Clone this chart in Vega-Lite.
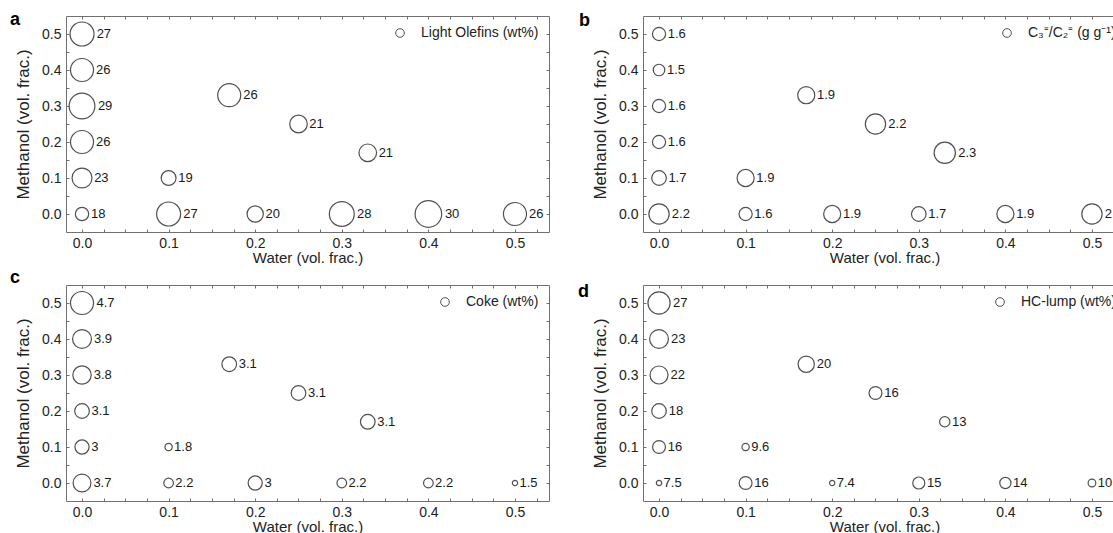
{
  "$schema": "https://vega.github.io/schema/vega-lite/v6.json",
  "background": "white",
  "padding": {"left": 9, "top": 10, "right": 0, "bottom": 0},
  "data": {"values": [
    {"panel": "a", "water": 0, "methanol": 0.5, "value": 27},
    {"panel": "a", "water": 0, "methanol": 0.4, "value": 26},
    {"panel": "a", "water": 0, "methanol": 0.3, "value": 29},
    {"panel": "a", "water": 0, "methanol": 0.2, "value": 26},
    {"panel": "a", "water": 0, "methanol": 0.1, "value": 23},
    {"panel": "a", "water": 0, "methanol": 0, "value": 18},
    {"panel": "a", "water": 0.1, "methanol": 0.1, "value": 19},
    {"panel": "a", "water": 0.1, "methanol": 0, "value": 27},
    {"panel": "a", "water": 0.2, "methanol": 0, "value": 20},
    {"panel": "a", "water": 0.3, "methanol": 0, "value": 28},
    {"panel": "a", "water": 0.4, "methanol": 0, "value": 30},
    {"panel": "a", "water": 0.5, "methanol": 0, "value": 26},
    {"panel": "a", "water": 0.17, "methanol": 0.33, "value": 26},
    {"panel": "a", "water": 0.25, "methanol": 0.25, "value": 21},
    {"panel": "a", "water": 0.33, "methanol": 0.17, "value": 21},
    {"panel": "b", "water": 0, "methanol": 0.5, "value": 1.6},
    {"panel": "b", "water": 0, "methanol": 0.4, "value": 1.5},
    {"panel": "b", "water": 0, "methanol": 0.3, "value": 1.6},
    {"panel": "b", "water": 0, "methanol": 0.2, "value": 1.6},
    {"panel": "b", "water": 0, "methanol": 0.1, "value": 1.7},
    {"panel": "b", "water": 0, "methanol": 0, "value": 2.2},
    {"panel": "b", "water": 0.1, "methanol": 0.1, "value": 1.9},
    {"panel": "b", "water": 0.1, "methanol": 0, "value": 1.6},
    {"panel": "b", "water": 0.2, "methanol": 0, "value": 1.9},
    {"panel": "b", "water": 0.3, "methanol": 0, "value": 1.7},
    {"panel": "b", "water": 0.4, "methanol": 0, "value": 1.9},
    {"panel": "b", "water": 0.5, "methanol": 0, "value": 2.2},
    {"panel": "b", "water": 0.17, "methanol": 0.33, "value": 1.9},
    {"panel": "b", "water": 0.25, "methanol": 0.25, "value": 2.2},
    {"panel": "b", "water": 0.33, "methanol": 0.17, "value": 2.3},
    {"panel": "c", "water": 0, "methanol": 0.5, "value": 4.7},
    {"panel": "c", "water": 0, "methanol": 0.4, "value": 3.9},
    {"panel": "c", "water": 0, "methanol": 0.3, "value": 3.8},
    {"panel": "c", "water": 0, "methanol": 0.2, "value": 3.1},
    {"panel": "c", "water": 0, "methanol": 0.1, "value": 3},
    {"panel": "c", "water": 0, "methanol": 0, "value": 3.7},
    {"panel": "c", "water": 0.1, "methanol": 0.1, "value": 1.8},
    {"panel": "c", "water": 0.1, "methanol": 0, "value": 2.2},
    {"panel": "c", "water": 0.2, "methanol": 0, "value": 3},
    {"panel": "c", "water": 0.3, "methanol": 0, "value": 2.2},
    {"panel": "c", "water": 0.4, "methanol": 0, "value": 2.2},
    {"panel": "c", "water": 0.5, "methanol": 0, "value": 1.5},
    {"panel": "c", "water": 0.17, "methanol": 0.33, "value": 3.1},
    {"panel": "c", "water": 0.25, "methanol": 0.25, "value": 3.1},
    {"panel": "c", "water": 0.33, "methanol": 0.17, "value": 3.1},
    {"panel": "d", "water": 0, "methanol": 0.5, "value": 27},
    {"panel": "d", "water": 0, "methanol": 0.4, "value": 23},
    {"panel": "d", "water": 0, "methanol": 0.3, "value": 22},
    {"panel": "d", "water": 0, "methanol": 0.2, "value": 18},
    {"panel": "d", "water": 0, "methanol": 0.1, "value": 16},
    {"panel": "d", "water": 0, "methanol": 0, "value": 7.5},
    {"panel": "d", "water": 0.1, "methanol": 0.1, "value": 9.6},
    {"panel": "d", "water": 0.1, "methanol": 0, "value": 16},
    {"panel": "d", "water": 0.2, "methanol": 0, "value": 7.4},
    {"panel": "d", "water": 0.3, "methanol": 0, "value": 15},
    {"panel": "d", "water": 0.4, "methanol": 0, "value": 14},
    {"panel": "d", "water": 0.5, "methanol": 0, "value": 10},
    {"panel": "d", "water": 0.17, "methanol": 0.33, "value": 20},
    {"panel": "d", "water": 0.25, "methanol": 0.25, "value": 16},
    {"panel": "d", "water": 0.33, "methanol": 0.17, "value": 13}
  ]},
  "columns": 2,
  "bounds": "flush",
  "spacing": {"row": 53, "column": 94},
  "resolve": {
    "scale": {"x": "independent", "y": "independent", "color": "independent", "size": "independent", "radius": "independent"},
    "legend": {"color": "independent"}
  },
  "concat": [
    {
      "width": 483, "height": 216,
      "title": {"text": "a", "anchor": "start", "frame": "group", "orient": "top", "fontSize": 18, "fontWeight": "bold", "font": "Liberation Sans", "color": "#000", "baseline": "alphabetic", "offset": -18, "dx": -56, "dy": 9},
      "transform": [{"filter": "datum.panel === 'a'"}],
      "layer": [
        {
          "mark": {"type": "point", "shape": "circle", "filled": false, "strokeWidth": 1.2, "opacity": 1},
          "encoding": {
            "x": {"field": "water", "type": "quantitative", "scale": {"domain": [-0.0185, 0.5393], "nice": false, "zero": false}, "axis": {"orient": "bottom", "values": [0,0.025,0.05,0.075,0.1,0.125,0.15,0.175,0.2,0.225,0.25,0.275,0.3,0.325,0.35,0.375,0.4,0.425,0.45,0.475,0.5,0.525], "labelExpr": "abs(datum.value*10 - round(datum.value*10)) < 0.001 ? format(datum.value, '.1f') : ''", "title": "Water (vol. frac.)"}},
            "y": {"field": "methanol", "type": "quantitative", "scale": {"domain": [-0.05, 0.55], "nice": false, "zero": false}, "axis": {"orient": "left", "values": [0,0.05,0.1,0.15,0.2,0.25,0.3,0.35,0.4,0.45,0.5], "labelExpr": "abs(datum.value*10 - round(datum.value*10)) < 0.001 ? format(datum.value, '.1f') : ''", "title": "Methanol (vol. frac.)"}},
            "size": {"field": "value", "type": "quantitative", "scale": {"type": "linear", "zero": false, "domain": [18, 30], "range": [177, 707]}, "legend": null},
            "color": {"datum": "Light Olefins (wt%)", "type": "nominal", "scale": {"range": ["#505050"]}, "legend": {"title": null, "orient": "top-right", "offset": 8, "padding": 2, "symbolType": "circle", "symbolSize": 75, "symbolStrokeWidth": 1, "labelFont": "Liberation Sans", "labelFontSize": 14, "labelColor": "#222", "labelOffset": 14}}
          }
        },
        {
          "mark": {"type": "text", "align": "left", "baseline": "middle", "theta": 1.5708, "fontSize": 13, "font": "Liberation Sans", "color": "#1a1a1a"},
          "encoding": {
            "x": {"field": "water", "type": "quantitative", "scale": {"domain": [-0.0185, 0.5393], "nice": false, "zero": false}, "axis": null},
            "y": {"field": "methanol", "type": "quantitative", "scale": {"domain": [-0.05, 0.55], "nice": false, "zero": false}, "axis": null},
            "radius": {"field": "value", "type": "quantitative", "scale": {"type": "linear", "zero": false, "domain": [18, 30], "range": [9, 16.5]}},
            "text": {"field": "value", "type": "nominal"}
          }
        },
        {
          "mark": {"type": "point", "opacity": 0},
          "encoding": {
            "x": {"field": "water", "type": "quantitative", "scale": {"domain": [-0.0185, 0.5393], "nice": false, "zero": false}, "axis": {"orient": "top", "values": [0,0.025,0.05,0.075,0.1,0.125,0.15,0.175,0.2,0.225,0.25,0.275,0.3,0.325,0.35,0.375,0.4,0.425,0.45,0.475,0.5,0.525], "labels": false, "title": null}},
            "y": {"field": "methanol", "type": "quantitative", "scale": {"domain": [-0.05, 0.55], "nice": false, "zero": false}, "axis": {"orient": "right", "values": [0,0.05,0.1,0.15,0.2,0.25,0.3,0.35,0.4,0.45,0.5], "labels": false, "title": null}}
          }
        }
      ],
      "resolve": {"axis": {"x": "independent", "y": "independent"}}
    },
    {
      "width": 483, "height": 216,
      "title": {"text": "b", "anchor": "start", "frame": "group", "orient": "top", "fontSize": 18, "fontWeight": "bold", "font": "Liberation Sans", "color": "#000", "baseline": "alphabetic", "offset": -18, "dx": -64, "dy": 10},
      "transform": [{"filter": "datum.panel === 'b'"}],
      "layer": [
        {
          "mark": {"type": "point", "shape": "circle", "filled": false, "strokeWidth": 1.2, "opacity": 1},
          "encoding": {
            "x": {"field": "water", "type": "quantitative", "scale": {"domain": [-0.0185, 0.5393], "nice": false, "zero": false}, "axis": {"orient": "bottom", "values": [0,0.025,0.05,0.075,0.1,0.125,0.15,0.175,0.2,0.225,0.25,0.275,0.3,0.325,0.35,0.375,0.4,0.425,0.45,0.475,0.5,0.525], "labelExpr": "abs(datum.value*10 - round(datum.value*10)) < 0.001 ? format(datum.value, '.1f') : ''", "title": "Water (vol. frac.)"}},
            "y": {"field": "methanol", "type": "quantitative", "scale": {"domain": [-0.05, 0.55], "nice": false, "zero": false}, "axis": {"orient": "left", "values": [0,0.05,0.1,0.15,0.2,0.25,0.3,0.35,0.4,0.45,0.5], "labelExpr": "abs(datum.value*10 - round(datum.value*10)) < 0.001 ? format(datum.value, '.1f') : ''", "title": "Methanol (vol. frac.)"}},
            "size": {"field": "value", "type": "quantitative", "scale": {"type": "linear", "zero": false, "domain": [1.5, 2.3], "range": [133, 452]}, "legend": null},
            "color": {"datum": "C₃⁼/C₂⁼ (g g⁻¹)", "type": "nominal", "scale": {"range": ["#505050"]}, "legend": {"title": null, "orient": "top-right", "offset": 8, "padding": 2, "symbolType": "circle", "symbolSize": 75, "symbolStrokeWidth": 1, "labelFont": "Liberation Sans", "labelFontSize": 14, "labelColor": "#222", "labelOffset": 14}}
          }
        },
        {
          "mark": {"type": "text", "align": "left", "baseline": "middle", "theta": 1.5708, "fontSize": 13, "font": "Liberation Sans", "color": "#1a1a1a"},
          "encoding": {
            "x": {"field": "water", "type": "quantitative", "scale": {"domain": [-0.0185, 0.5393], "nice": false, "zero": false}, "axis": null},
            "y": {"field": "methanol", "type": "quantitative", "scale": {"domain": [-0.05, 0.55], "nice": false, "zero": false}, "axis": null},
            "radius": {"field": "value", "type": "quantitative", "scale": {"type": "linear", "zero": false, "domain": [1.5, 2.3], "range": [8, 13.5]}},
            "text": {"field": "value", "type": "nominal"}
          }
        },
        {
          "mark": {"type": "point", "opacity": 0},
          "encoding": {
            "x": {"field": "water", "type": "quantitative", "scale": {"domain": [-0.0185, 0.5393], "nice": false, "zero": false}, "axis": {"orient": "top", "values": [0,0.025,0.05,0.075,0.1,0.125,0.15,0.175,0.2,0.225,0.25,0.275,0.3,0.325,0.35,0.375,0.4,0.425,0.45,0.475,0.5,0.525], "labels": false, "title": null}},
            "y": {"field": "methanol", "type": "quantitative", "scale": {"domain": [-0.05, 0.55], "nice": false, "zero": false}, "axis": {"orient": "right", "values": [0,0.05,0.1,0.15,0.2,0.25,0.3,0.35,0.4,0.45,0.5], "labels": false, "title": null}}
          }
        }
      ],
      "resolve": {"axis": {"x": "independent", "y": "independent"}}
    },
    {
      "width": 483, "height": 216,
      "title": {"text": "c", "anchor": "start", "frame": "group", "orient": "top", "fontSize": 18, "fontWeight": "bold", "font": "Liberation Sans", "color": "#000", "baseline": "alphabetic", "offset": -18, "dx": -56, "dy": -2},
      "transform": [{"filter": "datum.panel === 'c'"}],
      "layer": [
        {
          "mark": {"type": "point", "shape": "circle", "filled": false, "strokeWidth": 1.2, "opacity": 1},
          "encoding": {
            "x": {"field": "water", "type": "quantitative", "scale": {"domain": [-0.0185, 0.5393], "nice": false, "zero": false}, "axis": {"orient": "bottom", "values": [0,0.025,0.05,0.075,0.1,0.125,0.15,0.175,0.2,0.225,0.25,0.275,0.3,0.325,0.35,0.375,0.4,0.425,0.45,0.475,0.5,0.525], "labelExpr": "abs(datum.value*10 - round(datum.value*10)) < 0.001 ? format(datum.value, '.1f') : ''", "title": "Water (vol. frac.)"}},
            "y": {"field": "methanol", "type": "quantitative", "scale": {"domain": [-0.05, 0.55], "nice": false, "zero": false}, "axis": {"orient": "left", "values": [0,0.05,0.1,0.15,0.2,0.25,0.3,0.35,0.4,0.45,0.5], "labelExpr": "abs(datum.value*10 - round(datum.value*10)) < 0.001 ? format(datum.value, '.1f') : ''", "title": "Methanol (vol. frac.)"}},
            "size": {"field": "value", "type": "quantitative", "scale": {"type": "pow", "exponent": 2, "zero": false, "domain": [1.5, 4.7], "range": [28, 531]}, "legend": null},
            "color": {"datum": "Coke (wt%)", "type": "nominal", "scale": {"range": ["#505050"]}, "legend": {"title": null, "orient": "top-right", "offset": 8, "padding": 2, "symbolType": "circle", "symbolSize": 75, "symbolStrokeWidth": 1, "labelFont": "Liberation Sans", "labelFontSize": 14, "labelColor": "#222", "labelOffset": 14}}
          }
        },
        {
          "mark": {"type": "text", "align": "left", "baseline": "middle", "theta": 1.5708, "fontSize": 13, "font": "Liberation Sans", "color": "#1a1a1a"},
          "encoding": {
            "x": {"field": "water", "type": "quantitative", "scale": {"domain": [-0.0185, 0.5393], "nice": false, "zero": false}, "axis": null},
            "y": {"field": "methanol", "type": "quantitative", "scale": {"domain": [-0.05, 0.55], "nice": false, "zero": false}, "axis": null},
            "radius": {"field": "value", "type": "quantitative", "scale": {"type": "linear", "zero": false, "domain": [1.5, 4.7], "range": [4.5, 14.5]}},
            "text": {"field": "value", "type": "nominal"}
          }
        },
        {
          "mark": {"type": "point", "opacity": 0},
          "encoding": {
            "x": {"field": "water", "type": "quantitative", "scale": {"domain": [-0.0185, 0.5393], "nice": false, "zero": false}, "axis": {"orient": "top", "values": [0,0.025,0.05,0.075,0.1,0.125,0.15,0.175,0.2,0.225,0.25,0.275,0.3,0.325,0.35,0.375,0.4,0.425,0.45,0.475,0.5,0.525], "labels": false, "title": null}},
            "y": {"field": "methanol", "type": "quantitative", "scale": {"domain": [-0.05, 0.55], "nice": false, "zero": false}, "axis": {"orient": "right", "values": [0,0.05,0.1,0.15,0.2,0.25,0.3,0.35,0.4,0.45,0.5], "labels": false, "title": null}}
          }
        }
      ],
      "resolve": {"axis": {"x": "independent", "y": "independent"}}
    },
    {
      "width": 483, "height": 216,
      "title": {"text": "d", "anchor": "start", "frame": "group", "orient": "top", "fontSize": 18, "fontWeight": "bold", "font": "Liberation Sans", "color": "#000", "baseline": "alphabetic", "offset": -18, "dx": -65, "dy": 12},
      "transform": [{"filter": "datum.panel === 'd'"}],
      "layer": [
        {
          "mark": {"type": "point", "shape": "circle", "filled": false, "strokeWidth": 1.2, "opacity": 1},
          "encoding": {
            "x": {"field": "water", "type": "quantitative", "scale": {"domain": [-0.0185, 0.5393], "nice": false, "zero": false}, "axis": {"orient": "bottom", "values": [0,0.025,0.05,0.075,0.1,0.125,0.15,0.175,0.2,0.225,0.25,0.275,0.3,0.325,0.35,0.375,0.4,0.425,0.45,0.475,0.5,0.525], "labelExpr": "abs(datum.value*10 - round(datum.value*10)) < 0.001 ? format(datum.value, '.1f') : ''", "title": "Water (vol. frac.)"}},
            "y": {"field": "methanol", "type": "quantitative", "scale": {"domain": [-0.05, 0.55], "nice": false, "zero": false}, "axis": {"orient": "left", "values": [0,0.05,0.1,0.15,0.2,0.25,0.3,0.35,0.4,0.45,0.5], "labelExpr": "abs(datum.value*10 - round(datum.value*10)) < 0.001 ? format(datum.value, '.1f') : ''", "title": "Methanol (vol. frac.)"}},
            "size": {"field": "value", "type": "quantitative", "scale": {"type": "pow", "exponent": 2, "zero": false, "domain": [7.4, 27], "range": [28, 491]}, "legend": null},
            "color": {"datum": "HC-lump (wt%)", "type": "nominal", "scale": {"range": ["#505050"]}, "legend": {"title": null, "orient": "top-right", "offset": 8, "padding": 2, "symbolType": "circle", "symbolSize": 75, "symbolStrokeWidth": 1, "labelFont": "Liberation Sans", "labelFontSize": 14, "labelColor": "#222", "labelOffset": 14}}
          }
        },
        {
          "mark": {"type": "text", "align": "left", "baseline": "middle", "theta": 1.5708, "fontSize": 13, "font": "Liberation Sans", "color": "#1a1a1a"},
          "encoding": {
            "x": {"field": "water", "type": "quantitative", "scale": {"domain": [-0.0185, 0.5393], "nice": false, "zero": false}, "axis": null},
            "y": {"field": "methanol", "type": "quantitative", "scale": {"domain": [-0.05, 0.55], "nice": false, "zero": false}, "axis": null},
            "radius": {"field": "value", "type": "quantitative", "scale": {"type": "linear", "zero": false, "domain": [7.4, 27], "range": [4.5, 14]}},
            "text": {"field": "value", "type": "nominal"}
          }
        },
        {
          "mark": {"type": "point", "opacity": 0},
          "encoding": {
            "x": {"field": "water", "type": "quantitative", "scale": {"domain": [-0.0185, 0.5393], "nice": false, "zero": false}, "axis": {"orient": "top", "values": [0,0.025,0.05,0.075,0.1,0.125,0.15,0.175,0.2,0.225,0.25,0.275,0.3,0.325,0.35,0.375,0.4,0.425,0.45,0.475,0.5,0.525], "labels": false, "title": null}},
            "y": {"field": "methanol", "type": "quantitative", "scale": {"domain": [-0.05, 0.55], "nice": false, "zero": false}, "axis": {"orient": "right", "values": [0,0.05,0.1,0.15,0.2,0.25,0.3,0.35,0.4,0.45,0.5], "labels": false, "title": null}}
          }
        }
      ],
      "resolve": {"axis": {"x": "independent", "y": "independent"}}
    }
  ],
  "config": {
    "font": "Liberation Sans",
    "view": {"stroke": "#707070", "strokeWidth": 1},
    "axis": {"domain": false, "grid": false, "tickColor": "#707070", "tickSize": -3, "tickWidth": 1, "labelFont": "Liberation Sans", "labelFontSize": 14, "labelColor": "#222", "titleFont": "Liberation Sans", "titleFontWeight": "normal", "titleColor": "#222", "labelOverlap": false, "labelFlush": false},
    "axisX": {"labelPadding": 7, "titleFontSize": 15, "titlePadding": 0},
    "axisY": {"labelPadding": 8, "titleFontSize": 17, "titlePadding": 9}
  }
}
